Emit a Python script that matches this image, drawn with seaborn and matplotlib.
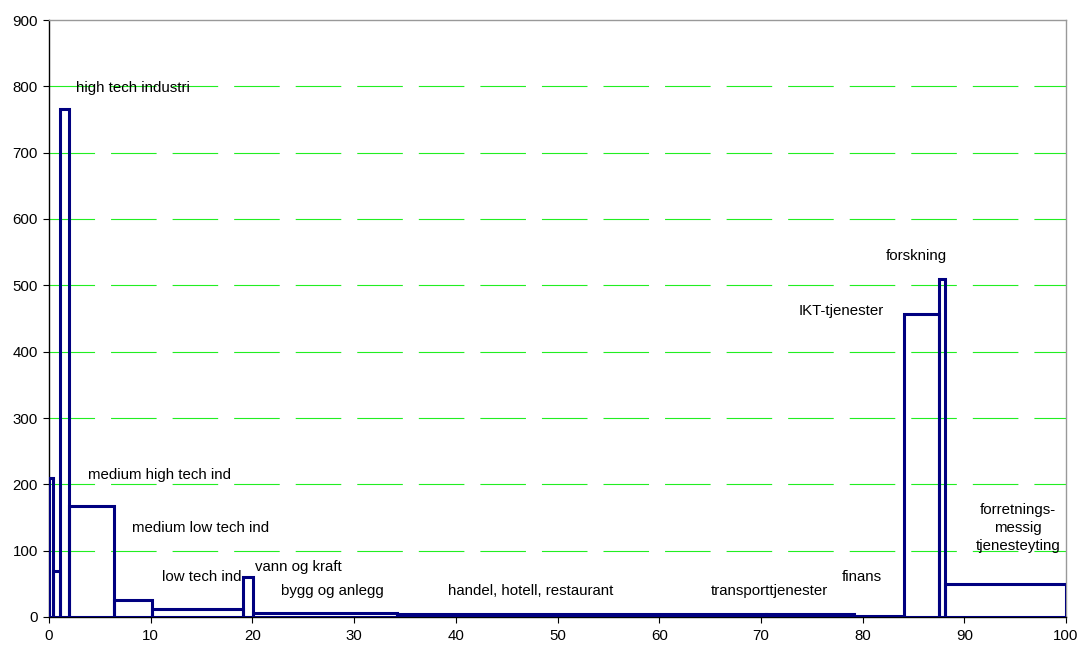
import numpy as np
import pandas as pd
import matplotlib
matplotlib.use("Agg")
import matplotlib.pyplot as plt
import seaborn as sns

# Sector shares (bar widths, % of total) and values (bar heights)
sectors = ["a", "b", "high tech industri", "medium high tech ind", "medium low tech ind",
           "low tech ind", "vann og kraft", "bygg og anlegg", "handel, hotell, restaurant",
           "transporttjenester", "finans", "IKT-tjenester", "forskning",
           "forretnings-\nmessig\ntjenesteyting"]
widths = [0.36, 0.72, 0.92, 4.39, 3.78, 8.86, 1.05, 14.12, 36.3, 8.7, 4.85, 3.45, 0.65, 11.85]
heights = [209, 69, 766, 167, 25, 12, 60, 6, 4, 5, 1, 457, 509, 50]

# Label positions (data coords)
label_text = ["high tech industri", "medium high tech ind", "medium low tech ind",
              "low tech ind", "vann og kraft", "bygg og anlegg",
              "handel, hotell, restaurant", "transporttjenester", "finans",
              "IKT-tjenester", "forskning", "forretnings-\nmessig\ntjenesteyting"]
label_x = [2.7, 3.8, 8.2, 11.1, 20.3, 22.8, 39.2, 65.1, 77.9, 73.7, 82.3, 95.3]
label_y = [797, 214, 134, 60, 75, 39, 39, 39, 60, 461, 544, 134]
label_ha = ["left"] * 11 + ["center"]

x_ticks = [0, 10, 20, 30, 40, 50, 60, 70, 80, 90, 100]
y_ticks = [0, 100, 200, 300, 400, 500, 600, 700, 800, 900]

edges = np.concatenate([[0], np.cumsum(widths)])
edges[-1] = 100
mids = (edges[:-1] + edges[1:]) / 2
df = pd.DataFrame({"x": mids, "h": heights})

sns.set_style("white")
plt.rcParams["font.family"] = ["Liberation Sans", "DejaVu Sans"]

fig = plt.figure(figsize=(10.79, 6.45), dpi=100)
ax = fig.add_axes([49 / 1079, 28 / 645, (1066 - 49) / 1079, (617 - 20) / 645])

# gridlines
for yv in y_ticks[1:-1]:
    ax.axhline(yv, color="#22ee22", lw=0.8, linestyle=(0, (41, 14.4)), zorder=0)

sns.histplot(data=df, x="x", weights="h", bins=[float(e) for e in edges], fill=False,
             element="bars", color="#000080", linewidth=2.2, ax=ax, zorder=3)

for t, x, y, ha in zip(label_text, label_x, label_y, label_ha):
    ax.text(x, y, t, ha=ha, va="center", fontsize=10.8, color="black",
            linespacing=1.38, zorder=4)

ax.set_xlim(0, 100)
ax.set_ylim(0, 900)
ax.set_xticks(x_ticks)
ax.set_yticks(y_ticks)
ax.set_xlabel("")
ax.set_ylabel("")
ax.tick_params(axis="both", direction="out", length=4, width=0.8, labelsize=10.8,
               colors="black")
ax.tick_params(axis="y", pad=4)
ax.tick_params(axis="x", pad=5)
ax.tick_params(axis="both", which="both", bottom=True, left=True)
for side in ["top", "right"]:
    ax.spines[side].set_color("#999999")
    ax.spines[side].set_linewidth(1.0)
for side in ["left", "bottom"]:
    ax.spines[side].set_color("black")
    ax.spines[side].set_linewidth(1.0)
ax.grid(False)

fig.savefig("out.png", dpi=100)
